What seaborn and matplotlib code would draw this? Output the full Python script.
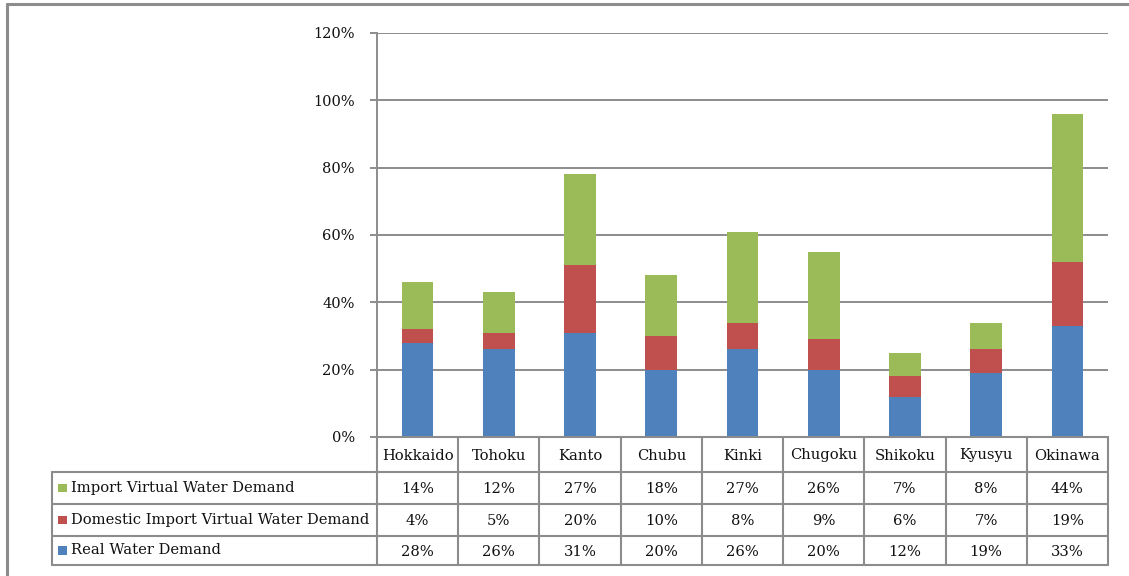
import matplotlib
matplotlib.use("Agg")
import matplotlib.pyplot as plt
import seaborn as sns
import pandas as pd
import numpy as np

regions = ["Hokkaido", "Tohoku", "Kanto", "Chubu", "Kinki", "Chugoku",
           "Shikoku", "Kyusyu", "Okinawa"]
real_water = [28, 26, 31, 20, 26, 20, 12, 19, 33]
domestic_import = [4, 5, 20, 10, 8, 9, 6, 7, 19]
import_virtual = [14, 12, 27, 18, 27, 26, 7, 8, 44]
y_ticks = [0, 20, 40, 60, 80, 100, 120]

series_names = ["Import Virtual Water Demand",
                "Domestic Import Virtual Water Demand",
                "Real Water Demand"]
series_values = [import_virtual, domestic_import, real_water]
series_colors = ["#9BBB59", "#C0504D", "#4F81BD"]

sns.set_theme(style="white")
plt.rcParams["font.family"] = ["DejaVu Serif"]

W, H = 1129, 576
fig = plt.figure(figsize=(W / 100, H / 100), dpi=100)

# plot area in pixels
PL, PR, PT, PB = 377, 1108, 33, 437
ax = fig.add_axes([PL / W, 1 - PB / H, (PR - PL) / W, (PB - PT) / H])

df = pd.DataFrame({"region": regions,
                   "real": np.array(real_water) / 100,
                   "domestic": np.array(domestic_import) / 100,
                   "imp": np.array(import_virtual) / 100})
df["lvl2"] = df["real"] + df["domestic"]
df["lvl3"] = df["lvl2"] + df["imp"]

grid_c = "#8C8C8C"
txt_c = "#111111"
for yv in y_ticks:
    ax.axhline(yv / 100, color=grid_c, lw=1.4, zorder=0)

# stacked bars: draw cumulative totals from top layer down
bw = 0.39
for col, colr, z in [("lvl3", series_colors[0], 2),
                     ("lvl2", series_colors[1], 3),
                     ("real", series_colors[2], 4)]:
    sns.barplot(data=df, x="region", y=col, color=colr, width=bw,
                saturation=1, ax=ax, zorder=z, linewidth=0, edgecolor=colr)

ax.set_xlim(-0.5, len(regions) - 0.5)
ax.set_ylim(0, 1.2)
ax.set_yticks([v / 100 for v in y_ticks])
ax.set_yticklabels([f"{v}%" for v in y_ticks], fontsize=10.5, color=txt_c)
ax.set_xticks([])
ax.set_xlabel("")
ax.set_ylabel("")
for s in ["top", "right", "bottom"]:
    ax.spines[s].set_visible(False)
ax.spines["left"].set_color(grid_c)
ax.spines["left"].set_linewidth(1.4)
ax.tick_params(axis="y", length=5, width=1.4, color=grid_c, pad=11, left=True)

# overlay in pixel coordinates for the data table and frame
ov = fig.add_axes([0, 0, 1, 1], zorder=5)
ov.set_xlim(0, W)
ov.set_ylim(H, 0)
ov.axis("off")
ov.patch.set_alpha(0)

# outer frame
ov.plot([6.5, 6.5], [3.8, H + 5], color=grid_c, lw=2.2)
ov.plot([6.5, W + 5], [3.8, 3.8], color=grid_c, lw=2.2)

TL = 52
row_y = [437, 472, 504, 536, 565]
col_w = (PR - PL) / len(regions)
col_x = [PL + i * col_w for i in range(len(regions) + 1)]
lc = "#8C8C8C"
lw = 1.5
fs = 10.6

# horizontal table lines
ov.plot([PL, PR], [row_y[0], row_y[0]], color=lc, lw=lw)
for yv in row_y[1:]:
    ov.plot([TL, PR], [yv, yv], color=lc, lw=lw)
# vertical table lines
ov.plot([TL, TL], [row_y[1], row_y[-1]], color=lc, lw=lw)
for xv in col_x:
    ov.plot([xv, xv], [row_y[0], row_y[-1]], color=lc, lw=lw)

# header labels
for i, name in enumerate(regions):
    ov.text((col_x[i] + col_x[i + 1]) / 2, (row_y[0] + row_y[1]) / 2 + 1, name,
            ha="center", va="center", fontsize=fs, color=txt_c)

# rows with legend keys
for r, (name, vals, colr) in enumerate(zip(series_names, series_values, series_colors)):
    yc = (row_y[r + 1] + row_y[r + 2]) / 2
    ov.add_patch(plt.Rectangle((58, yc - 4.5), 8.5, 8.5, color=colr, lw=0))
    ov.text(71, yc, name, ha="left", va="center", fontsize=fs, color=txt_c)
    for i, v in enumerate(vals):
        ov.text((col_x[i] + col_x[i + 1]) / 2, yc + 1, f"{v}%",
                ha="center", va="center", fontsize=fs, color=txt_c)

fig.savefig("out.png", dpi=100, facecolor="white")
